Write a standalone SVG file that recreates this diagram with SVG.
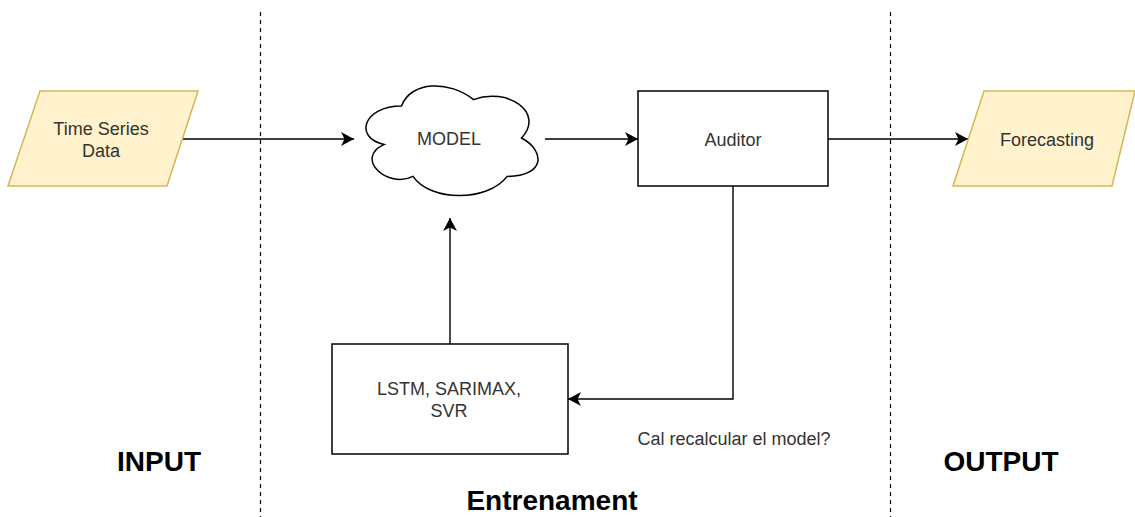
<svg xmlns="http://www.w3.org/2000/svg" width="1135" height="517" viewBox="0 0 1135 517">
<style>
  .lbl { font-family: "Liberation Sans", Arial, sans-serif; font-size: 18px; fill: #333333; text-anchor: middle; }
  .title { font-family: "Liberation Sans", Arial, sans-serif; font-size: 28px; font-weight: bold; fill: #000000; text-anchor: middle; }
  .io { fill: #fff2cc; stroke: #d6b656; stroke-width: 1.5; }
  .box { fill: #ffffff; stroke: #000000; stroke-width: 1.5; }
  .edge { fill: none; stroke: #000000; stroke-width: 1.4; }
  .sep { fill: none; stroke: #000000; stroke-width: 1.2; stroke-dasharray: 4 4; }
</style>
<defs>
  <marker id="arr" markerUnits="userSpaceOnUse" markerWidth="16" markerHeight="16" viewBox="0 0 16 16" refX="14" refY="8" orient="auto">
    <path d="M1,1 L14,8 L1,15 L4.5,8 Z" fill="#000000"/>
  </marker>
</defs>
<rect width="1135" height="517" fill="#ffffff"/>
<g id="separators">
  <line class="sep" x1="260.5" y1="12" x2="260.5" y2="517"/>
  <line class="sep" x1="890.5" y1="12" x2="890.5" y2="517"/>
</g>
<g id="connectors">
  <line class="edge" x1="182" y1="139" x2="354" y2="139" marker-end="url(#arr)"/>
  <line class="edge" x1="545" y1="139" x2="638" y2="139" marker-end="url(#arr)"/>
  <line class="edge" x1="828" y1="139" x2="968" y2="139" marker-end="url(#arr)"/>
  <line class="edge" x1="450" y1="344" x2="450" y2="218" marker-end="url(#arr)"/>
  <polyline class="edge" points="733,186 733,399 568,399" marker-end="url(#arr)"/>
</g>
<g id="time-series-data">
  <polygon class="io" points="40,91 198,91 167,186 8,186"/>
  <text class="lbl" x="101" y="135">Time Series</text>
  <text class="lbl" x="101" y="157">Data</text>
</g>
<g id="model">
  <path class="box" d="M401.5,106 C363.1,106 353.5,138 384.2,144.4 C353.5,158.5 388.1,189.2 413,176.4 C430.3,202 487.9,202 507.1,176.4 C545.5,176.4 545.5,150.8 521.5,138 C545.5,112.4 507.1,86.8 473.5,99.6 C449.5,80.4 411.1,80.4 401.5,106 Z"/>
  <text class="lbl" x="449" y="145">MODEL</text>
</g>
<g id="auditor">
  <rect class="box" x="638" y="91" width="190" height="95"/>
  <text class="lbl" x="733" y="146">Auditor</text>
</g>
<g id="forecasting">
  <polygon class="io" points="984,91 1135,91 1112,186 953,186"/>
  <text class="lbl" x="1047" y="146">Forecasting</text>
</g>
<g id="algorithms">
  <rect class="box" x="332" y="344" width="236" height="110"/>
  <text class="lbl" x="449" y="395">LSTM, SARIMAX,</text>
  <text class="lbl" x="449" y="417">SVR</text>
</g>
<g id="labels">
  <text class="lbl" x="734" y="445">Cal recalcular el model?</text>
  <text class="title" x="159" y="471">INPUT</text>
  <text class="title" x="1001" y="471">OUTPUT</text>
  <text class="title" x="552" y="510">Entrenament</text>
</g>
</svg>
